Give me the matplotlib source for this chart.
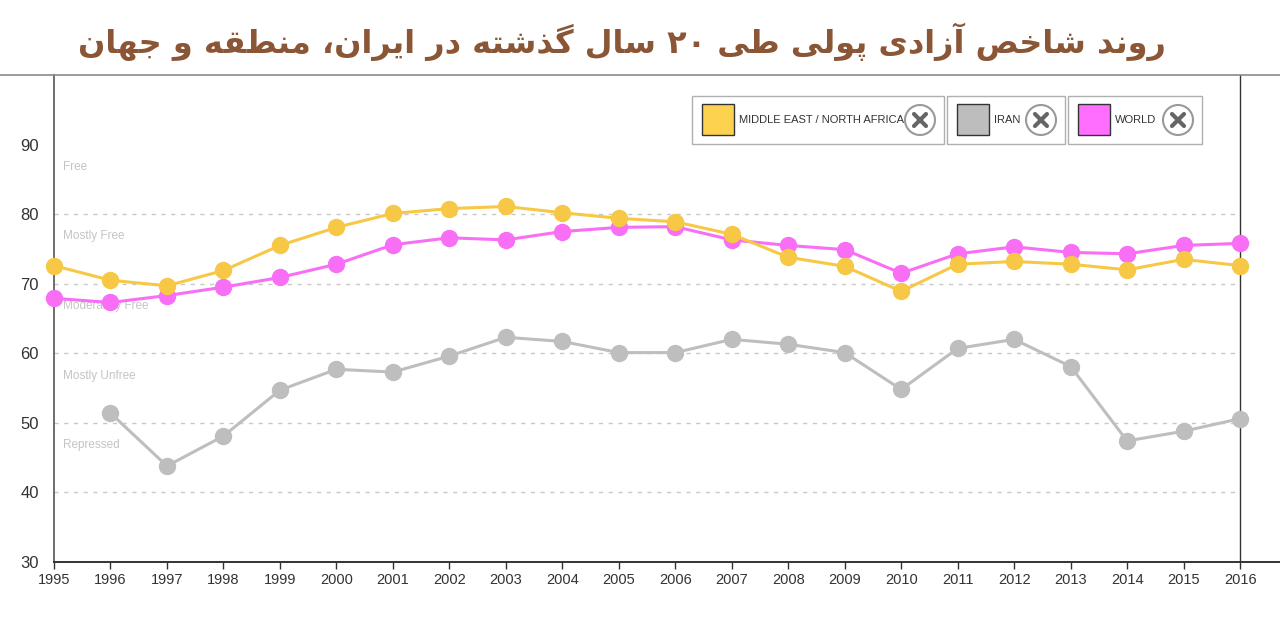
import numpy as np
import matplotlib
matplotlib.use('Agg')
from matplotlib import pyplot as plt
from matplotlib.patches import Rectangle, Circle

# data
years = list(range(1995, 2017))
mena = [72.6, 70.5, 69.7, 71.9, 75.5, 78.1, 80.1, 80.8, 81.1, 80.2, 79.4,
        78.9, 77.1, 73.8, 72.5, 68.9, 72.8, 73.2, 72.8, 72.0, 73.5, 72.6]
world = [67.9, 67.3, 68.3, 69.5, 70.9, 72.8, 75.6, 76.6, 76.3, 77.5, 78.1,
         78.2, 76.3, 75.5, 74.9, 71.5, 74.3, 75.3, 74.5, 74.3, 75.5, 75.8]
iran = [np.nan, 51.4, 43.8, 48.1, 54.7, 57.7, 57.3, 59.6, 62.3, 61.7, 60.1,
        60.1, 62.0, 61.3, 60.1, 54.8, 60.7, 62.0, 58.1, 47.4, 48.8, 50.6]
bands = ['Free', 'Mostly Free', 'Moderately Free', 'Mostly Unfree', 'Repressed']
band_y = [86.8, 76.8, 66.8, 56.8, 46.8]
yticks = [30, 40, 50, 60, 70, 80, 90]
grid_y = [40, 50, 60, 70, 80]
series_names = ['MIDDLE EAST / NORTH AFRICA', 'IRAN', 'WORLD']
title = 'روند شاخص آزادی پولی طی ۲۰ سال گذشته در ایران، منطقه و جهان'

c_yel = '#F7C846'
c_pink = '#F86EF5'
c_grey = '#BEBEBE'

narrow = ['Liberation Sans', 'DejaVu Sans']

# --- crude persian shaping (no arabic_reshaper here) ---
forms = {
    'ا': ('\uFE8D', '\uFE8E', None, None), 'آ': ('\uFE81', '\uFE82', None, None),
    'پ': ('\uFB56', '\uFB57', '\uFB58', '\uFB59'), 'ت': ('\uFE95', '\uFE96', '\uFE97', '\uFE98'),
    'ج': ('\uFE9D', '\uFE9E', '\uFE9F', '\uFEA0'), 'خ': ('\uFEA5', '\uFEA6', '\uFEA7', '\uFEA8'),
    'د': ('\uFEA9', '\uFEAA', None, None), 'ذ': ('\uFEAB', '\uFEAC', None, None),
    'ر': ('\uFEAD', '\uFEAE', None, None), 'ز': ('\uFEAF', '\uFEB0', None, None),
    'س': ('\uFEB1', '\uFEB2', '\uFEB3', '\uFEB4'), 'ش': ('\uFEB5', '\uFEB6', '\uFEB7', '\uFEB8'),
    'ص': ('\uFEB9', '\uFEBA', '\uFEBB', '\uFEBC'), 'ط': ('\uFEC1', '\uFEC2', '\uFEC3', '\uFEC4'),
    'ق': ('\uFED5', '\uFED6', '\uFED7', '\uFED8'), 'گ': ('\uFB92', '\uFB93', '\uFB94', '\uFB95'),
    'ل': ('\uFEDD', '\uFEDE', '\uFEDF', '\uFEE0'), 'م': ('\uFEE1', '\uFEE2', '\uFEE3', '\uFEE4'),
    'ن': ('\uFEE5', '\uFEE6', '\uFEE7', '\uFEE8'), 'ه': ('\uFEE9', '\uFEEA', '\uFEEB', '\uFEEC'),
    'و': ('\uFEED', '\uFEEE', None, None), 'ی': ('\uFBFC', '\uFBFD', '\uFBFE', '\uFBFF'),
}

def dual(ch):
    return ch in forms and forms[ch][2] is not None

def shape(s):
    out = []
    for i, ch in enumerate(s):
        if ch not in forms:
            out.append(ch)
            continue
        prev = s[i-1] if i > 0 else ''
        nxt = s[i+1] if i < len(s)-1 else ''
        jp = dual(prev)
        jn = dual(ch) and nxt in forms
        iso, fin, ini, med = forms[ch]
        if jp and jn:
            out.append(med)
        elif jp:
            out.append(fin)
        elif jn:
            out.append(ini)
        else:
            out.append(iso)
    vis = ''.join(out)[::-1]
    # keep digit runs left to right
    res, run = '', ''
    for ch in vis:
        if ch in '۰۱۲۳۴۵۶۷۸۹':
            run += ch
        else:
            res += run[::-1] + ch
            run = ''
    return res + run[::-1]

fig = plt.figure(figsize=(12.8, 6.39), dpi=100)
ax = fig.add_axes([54/1280, 1-562/639, 1226/1280, (562-75)/639])
ax.set_xlim(1995, 1995 + 1226/56.48)
ax.set_ylim(30, 100)

for g in grid_y:
    ax.plot([1995, 2016], [g, g], color='#c8c8c8', lw=1, ls=(0, (3, 4)), zorder=1)
for name, yy in zip(bands, band_y):
    ax.text(1995.16, yy, name, color='#c4c4c4', fontsize=8.5, va='center', ha='left',
            family=narrow, zorder=1)

ax.axvline(2016, color='#333333', lw=1, zorder=2)

for vals, col in [(iran, c_grey), (world, c_pink), (mena, c_yel)]:
    ax.plot(years, vals, color=col, lw=2.2, marker='o', ms=11.5, mec=col, mfc=col,
            clip_on=False, zorder=3)

ax.set_xticks(years)
ax.set_xticklabels([str(y) for y in years], family=narrow, fontsize=10.5, color='#333333')
ax.set_yticks(yticks)
ax.set_yticklabels([str(v) for v in yticks], family=narrow, fontsize=12, color='#333333')
ax.tick_params(axis='x', length=5, width=1, color='#333333', pad=3)
ax.tick_params(axis='y', length=0, pad=11)
for s in ['top', 'right']:
    ax.spines[s].set_visible(False)
ax.spines['left'].set_color('#555555')
ax.spines['left'].set_linewidth(1.2)
ax.spines['bottom'].set_color('#333333')
ax.spines['bottom'].set_linewidth(1.4)

# overlay in pixel units for title line and legend
ov = fig.add_axes([0, 0, 1, 1])
ov.set_xlim(0, 1280)
ov.set_ylim(639, 0)
ov.axis('off')
ov.patch.set_alpha(0)
ov.plot([0, 1280], [75, 75], color='#8a8a8a', lw=1.2)

ov.text(622, 42, shape(title), color='#8B5636', fontsize=23, fontweight='bold',
        ha='center', va='center', family=['DejaVu Sans'])

boxes = [(692, 944), (947, 1065), (1068, 1202)]
for (x0, x1), name, col in zip(boxes, series_names, ['#FDD24E', '#BDBDBD', '#FF6EFF']):
    ov.add_patch(Rectangle((x0, 96), x1 - x0, 48, fill=False, ec='#b0b0b0', lw=1))
    ov.add_patch(Rectangle((x0 + 10, 104), 32, 31, fc=col, ec='#333333', lw=1))
    ov.text(x0 + 47, 120, name, family=narrow, fontsize=8, color='#333333',
            va='center', ha='left')
    cx = x1 - 24
    ov.add_patch(Circle((cx, 120), 15, fill=False, ec='#999999', lw=1.5))
    ov.plot([cx - 6, cx + 6], [114, 126], color='#666666', lw=3, solid_capstyle='round')
    ov.plot([cx - 6, cx + 6], [126, 114], color='#666666', lw=3, solid_capstyle='round')

fig.savefig('out.png', dpi=100)
